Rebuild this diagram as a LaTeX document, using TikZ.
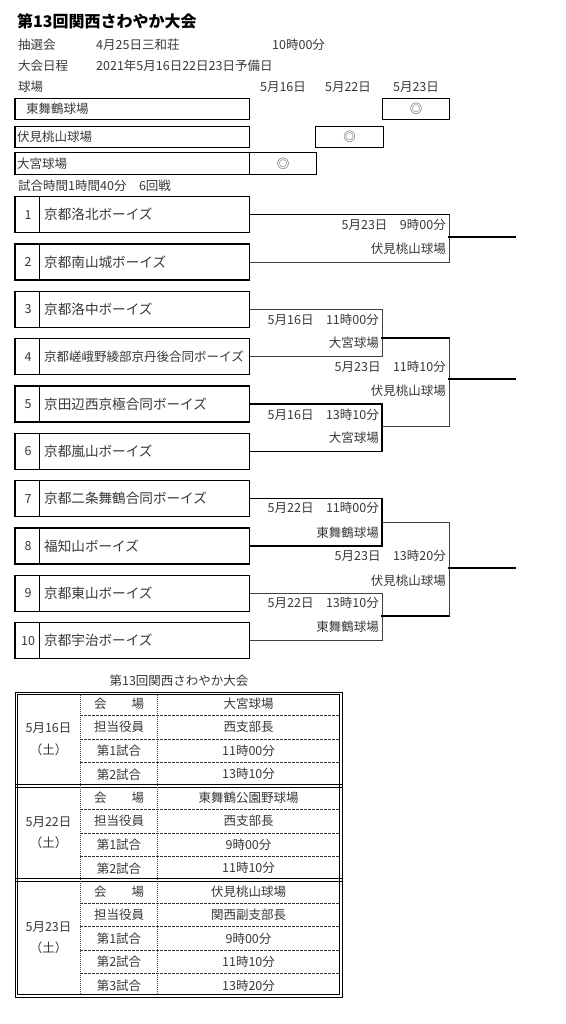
\documentclass[tikz,border=0pt]{standalone}
\usepackage{fontspec}
\setmainfont{Noto Sans CJK JP}
\newcommand\fsn{\fontsize{12.5pt}{14pt}\selectfont}
\newcommand\fsteam{\fontsize{13.6pt}{15pt}\selectfont}
\newcommand\fstitle{\fontsize{16pt}{18pt}\selectfont}
\begin{document}
\begin{tikzpicture}[x=1pt,y=-1pt,
  txt/.style={inner sep=0pt, text=black!78, font=\fsn},
  vbox/.style={draw=black, line width=1.1pt, inner sep=0pt, anchor=north west},
  tbox/.style={draw=black, line width=1.2pt, minimum width=234.6pt, minimum height=36pt, inner sep=0pt, anchor=north west},
  bthick/.style={line width=1.4pt, black, line cap=rect},
  bthin/.style={line width=0.7pt, black!75},
  vdash/.style={line width=0.5pt, black!70, dash pattern=on 1pt off 1pt},
  hdash/.style={line width=1pt, black!80, dash pattern=on 3pt off 1pt},
  dline/.style={line width=0.8pt, black}]
\useasboundingbox (0,0) rectangle (565,1024);
\fill[white] (0,0) rectangle (565,1024);

% header
\node[anchor=west, inner sep=0pt, font=\fstitle\bfseries] (title) at (17,21) {第13回関西さわやか大会};
\node[txt,anchor=west] (h1) at (18,45) {抽選会};
\node[txt,anchor=west] (h2) at (96,45) {4月25日三和荘};
\node[txt,anchor=west] (h3) at (272,45) {10時00分};
\node[txt,anchor=west] (h4) at (18,66) {大会日程};
\node[txt,anchor=west] (h5) at (96,66) {2021年5月16日22日23日予備日};
\node[txt,anchor=west] (h6) at (18,87) {球場};
\node[txt] (d1) at (283,87) {5月16日};
\node[txt] (d2) at (348,87) {5月22日};
\node[txt] (d3) at (416,87) {5月23日};

% venue boxes
\node[vbox, minimum width=234.6pt, minimum height=21pt] (v1) at (14.4,98) {};
\node[vbox, minimum width=67pt, minimum height=21pt] (c1) at (382,98) {};
\node[vbox, minimum width=234.6pt, minimum height=21pt] (v2) at (14.4,126) {};
\node[vbox, minimum width=68pt, minimum height=21pt] (c2) at (315,126) {};
\node[vbox, minimum width=234.6pt, minimum height=22pt] (v3) at (14.4,152) {};
\node[vbox, minimum width=67pt, minimum height=22pt] (c3) at (249,152) {};
\node[txt,anchor=west] (v1t) at ([xshift=11.6pt]v1.west) {東舞鶴球場};
\node[txt,anchor=west] (v2t) at ([xshift=2.6pt]v2.west) {伏見桃山球場};
\node[txt,anchor=west] (v3t) at ([xshift=2.6pt]v3.west) {大宮球場};
\node[txt] (c1t) at (c1.center) {◎};
\node[txt] (c2t) at (c2.center) {◎};
\node[txt] (c3t) at (c3.center) {◎};

\node[txt,anchor=west] (h7) at (18,186) {試合時間1時間40分　6回戦};

% team boxes
\foreach \i in {1,...,10} {
  \pgfmathsetmacro\yy{196+(\i-1)*47.33}
  \node[tbox] (t\i) at (14.4,\yy) {};
  \draw[line width=0.9pt] ([xshift=25.3pt]t\i.north west) -- ([xshift=25.3pt]t\i.south west);
  \node[txt] (n\i) at ([xshift=13.6pt]t\i.west) {\i};
}
\node[txt,font=\fsteam,anchor=west] (name1) at ([xshift=29.6pt]t1.west) {京都洛北ボーイズ};
\node[txt,font=\fsteam,anchor=west] (name2) at ([xshift=29.6pt]t2.west) {京都南山城ボーイズ};
\node[txt,font=\fsteam,anchor=west] (name3) at ([xshift=29.6pt]t3.west) {京都洛中ボーイズ};
\node[txt,font=\fsn,anchor=west] (name4) at ([xshift=29.6pt]t4.west) {京都嵯峨野綾部京丹後合同ボーイズ};
\node[txt,font=\fsteam,anchor=west] (name5) at ([xshift=29.6pt]t5.west) {京田辺西京極合同ボーイズ};
\node[txt,font=\fsteam,anchor=west] (name6) at ([xshift=29.6pt]t6.west) {京都嵐山ボーイズ};
\node[txt,font=\fsteam,anchor=west] (name7) at ([xshift=29.6pt]t7.west) {京都二条舞鶴合同ボーイズ};
\node[txt,font=\fsteam,anchor=west] (name8) at ([xshift=29.6pt]t8.west) {福知山ボーイズ};
\node[txt,font=\fsteam,anchor=west] (name9) at ([xshift=29.6pt]t9.west) {京都東山ボーイズ};
\node[txt,font=\fsteam,anchor=west] (name10) at ([xshift=29.6pt]t10.west) {京都宇治ボーイズ};

% bracket junctions
\coordinate (j12) at (449,237);
\coordinate (j34) at (382,338);
\coordinate (j56) at (382,426);
\coordinate (s1) at (449,379);
\coordinate (j78) at (382,522);
\coordinate (j910) at (382,616);
\coordinate (s2) at (449,568);
\coordinate (e1) at (515,237);
\coordinate (e2) at (515,379);
\coordinate (e3) at (515,568);

\draw[bthick] (t1.east) -- (t1.east -| j12);
\draw[bthin] (t1.east -| j12) -- (j12);
\draw[bthin] (t2.east) -| (j12);
\draw[bthick] (j12) -- (e1);

\draw[bthin] (t3.east) -| (j34);
\draw[bthin] (t4.east) -| (j34);
\draw[bthick] (t5.east) -| (j56);
\draw[bthick] (t6.east) -| (j56);
\draw[bthick] (j34) -- (j34 -| s1);
\draw[bthin] (j34 -| s1) -- (s1);
\draw[bthin] (j56) -| (s1);
\draw[bthick] (s1) -- (e2);

\draw[bthick] (t7.east) -| (j78);
\draw[bthick] (t8.east) -| (j78);
\draw[bthin] (t9.east) -| (j910);
\draw[bthin] (t10.east) -| (j910);
\draw[bthin] (j78) -| (s2);
\draw[bthick] (j910) -- (j910 -| s2);
\draw[bthin] (j910 -| s2) -- (s2);
\draw[bthick] (s2) -- (e3);

% match labels
\node[txt,anchor=east] (l1a) at (446,225) {5月23日　9時00分};
\node[txt,anchor=east] (l1b) at (446,249) {伏見桃山球場};
\node[txt,anchor=east] (l2a) at (379,320) {5月16日　11時00分};
\node[txt,anchor=east] (l2b) at (379,343) {大宮球場};
\node[txt,anchor=east] (l3a) at (379,415) {5月16日　13時10分};
\node[txt,anchor=east] (l3b) at (379,438) {大宮球場};
\node[txt,anchor=east] (l4a) at (446,367) {5月23日　11時10分};
\node[txt,anchor=east] (l4b) at (446,391) {伏見桃山球場};
\node[txt,anchor=east] (l5a) at (379,508) {5月22日　11時00分};
\node[txt,anchor=east] (l5b) at (379,533) {東舞鶴球場};
\node[txt,anchor=east] (l6a) at (379,603) {5月22日　13時10分};
\node[txt,anchor=east] (l6b) at (379,627) {東舞鶴球場};
\node[txt,anchor=east] (l7a) at (446,556) {5月23日　13時20分};
\node[txt,anchor=east] (l7b) at (446,581) {伏見桃山球場};

% table
\node[txt] (cap) at (179,681) {第13回関西さわやか大会};
\draw[dline] (15,692) rectangle (342,997);
\draw[line width=0.6pt] (17.6,694.6) rectangle (339.4,994.4);
\draw[line width=0.7pt] (15,784.6) -- (342,784.6);
\draw[line width=0.7pt] (15,787.4) -- (342,787.4);
\draw[line width=0.7pt] (15,878.6) -- (342,878.6);
\draw[line width=0.7pt] (15,881.4) -- (342,881.4);
\draw[vdash] (80,694.6) -- (80,994.4);
\draw[vdash] (157,694.6) -- (157,994.4);
\foreach \yy in {715.5,739,762.5,809.5,833,856.5,903.4,926.8,950.2,973.6}
  \draw[hdash] (80,\yy) -- (339.4,\yy);

\node[txt] (dt1) at (48.5,728) {5月16日};
\node[txt] (dw1) at (48.5,750) {（土）};
\node[txt] (dt2) at (48.5,822) {5月22日};
\node[txt] (dw2) at (48.5,843) {（土）};
\node[txt] (dt3) at (48.5,927) {5月23日};
\node[txt] (dw3) at (48.5,948) {（土）};

\foreach \i/\yy/\a/\b in {
  1/703.75/会　　場/大宮球場,
  2/727.25/担当役員/西支部長,
  3/750.75/第1試合/11時00分,
  4/774.25/第2試合/13時10分,
  5/797.75/会　　場/東舞鶴公園野球場,
  6/821.25/担当役員/西支部長,
  7/844.75/第1試合/9時00分,
  8/868.25/第2試合/11時10分,
  9/891.7/会　　場/伏見桃山球場,
  10/915.1/担当役員/関西副支部長,
  11/938.5/第1試合/9時00分,
  12/961.9/第2試合/11時10分,
  13/985.3/第3試合/13時20分} {
  \node[txt] (ka\i) at (119,\yy) {\a};
  \node[txt] (kb\i) at (248.5,\yy) {\b};
}
\end{tikzpicture}
\end{document}
